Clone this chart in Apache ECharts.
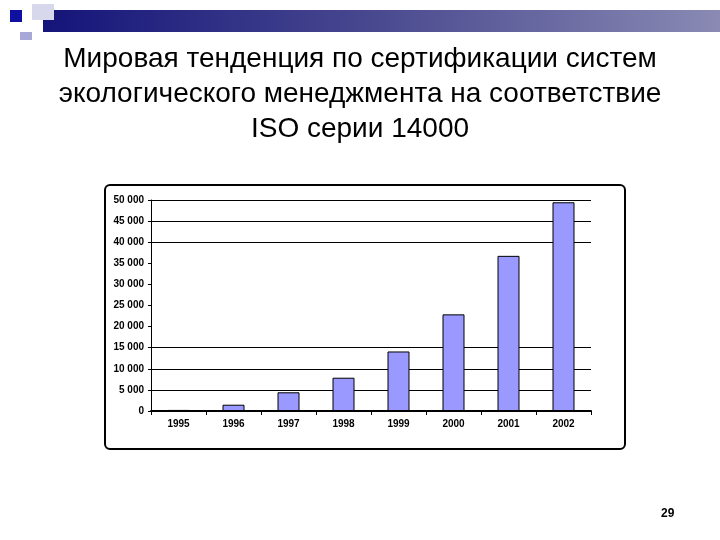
<!DOCTYPE html>
<html>
<head>
<meta charset="utf-8">
<script src="https://cdn.jsdelivr.net/npm/echarts@6/dist/echarts.min.js"></script>
<style>
  html, body { margin: 0; padding: 0; background: #fff; }
  #chart { width: 720px; height: 540px; }
</style>
</head>
<body>
<div id="chart"></div>
<script>
// данные ISO 14001 по годам
var years = ['1995', '1996', '1997', '1998', '1999', '2000', '2001', '2002'];
var certificates = [257, 1491, 4433, 7887, 14106, 22897, 36765, 49462];
// видимые линии сетки (на картинке 20 000 - 35 000 пропущены)
var gridShown = [0, 5000, 10000, 15000, 40000, 45000, 50000];
var titleLines = [
    'Мировая тенденция по сертификации систем',
    'экологического менеджмента на соответствие',
    'ISO серии 14000'
];

var myChart = echarts.init(document.getElementById('chart'));

var splitColors = [];
for (var v = 0; v <= 50000; v += 5000) {
    splitColors.push(gridShown.indexOf(v) >= 0 ? '#000' : 'rgba(0,0,0,0)');
}

var option = {
    backgroundColor: '#fff',
    animation: false,
    title: {
        text: titleLines.join('\n'),
        left: 'center',
        top: 37,
        textStyle: {
            fontFamily: 'Liberation Sans, Arial, sans-serif',
            fontWeight: 'normal',
            fontSize: 28,
            lineHeight: 35,
            color: '#000'
        }
    },
    graphic: [
        // шапка слайда
        { type: 'rect', shape: { x: 43, y: 10, width: 677, height: 22 },
          style: { fill: new echarts.graphic.LinearGradient(0, 0, 1, 0, [
              { offset: 0, color: '#14147a' }, { offset: 0.5, color: '#4a4a90' }, { offset: 1, color: '#8a8ab4' }]) } },
        { type: 'rect', shape: { x: 32, y: 4, width: 22, height: 16 }, style: { fill: '#d8d8ec' } },
        { type: 'rect', shape: { x: 10, y: 10, width: 12, height: 12 }, style: { fill: '#1010a0' } },
        { type: 'rect', shape: { x: 20, y: 32, width: 12, height: 8 }, style: { fill: '#a8a8d8' } },
        // рамка диаграммы
        { type: 'rect', shape: { x: 105, y: 185, width: 520, height: 264, r: 5 },
          style: { fill: '#fff', stroke: '#000', lineWidth: 2 } },
        { type: 'text', left: 661, top: 508,
          style: { text: '29', font: 'bold 12px Liberation Sans, Arial, sans-serif', fill: '#000' } }
    ],
    grid: {
        left: 151,
        right: 129,
        top: 200,
        bottom: 129
    },
    xAxis: {
        type: 'category',
        data: years,
        axisLine: { lineStyle: { color: '#000', width: 2 } },
        axisTick: { show: true, length: 4, lineStyle: { color: '#000' } },
        axisLabel: {
            color: '#000',
            fontSize: 10,
            fontWeight: 'bold',
            fontFamily: 'Liberation Sans, Arial, sans-serif',
            margin: 8
        }
    },
    yAxis: {
        type: 'value',
        min: 0,
        max: 50000,
        interval: 5000,
        axisLine: { show: true, lineStyle: { color: '#000' } },
        axisTick: { show: true, length: 3, lineStyle: { color: '#000' } },
        axisLabel: {
            color: '#000',
            fontSize: 10,
            fontWeight: 'bold',
            fontFamily: 'Liberation Sans, Arial, sans-serif',
            margin: 7,
            formatter: function (val) {
                return val === 0 ? '0' : String(val).replace(/(\d)(?=(\d{3})+$)/g, '$1 ');
            }
        },
        splitLine: { show: true, lineStyle: { color: splitColors, width: 1 } }
    },
    series: [{
        type: 'bar',
        data: certificates,
        barWidth: '40%',
        itemStyle: { color: '#9999ff', borderColor: '#000', borderWidth: 1 }
    }]
};

myChart.setOption(option);
</script>
</body>
</html>
